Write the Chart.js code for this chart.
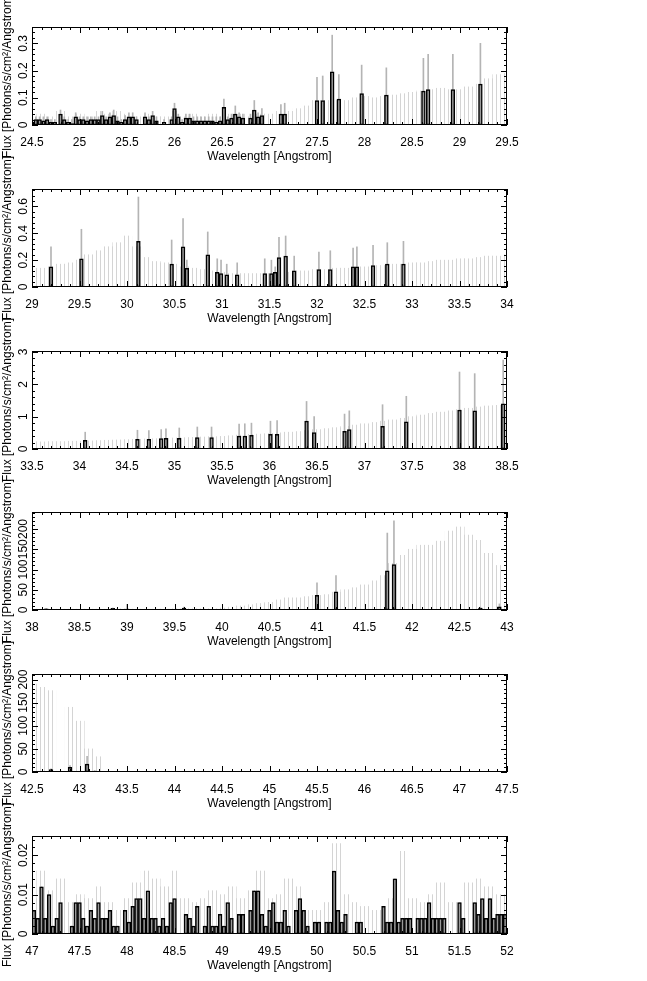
<!DOCTYPE html>
<html><head><meta charset="utf-8">
<script src="https://cdn.jsdelivr.net/npm/chart.js@4/dist/chart.umd.min.js"></script>
<style>body{margin:0;background:#fff;width:647px;height:981px;overflow:hidden}
.p{position:absolute;left:0;width:647px;height:204px}</style></head><body>
<div id="wrap"></div>
<script>
// ---- panel ranges and y tick steps ----
const xMin = [24.5, 29, 33.5, 38, 42.5, 47];
const yMax = [0.36, 0.73, 3.03, 242, 212, 0.0249];
const yStep = [0.1, 0.2, 1, 50, 50, 0.01];
const yDigits = [1, 1, 0, 0, 0, 2];
const binWidth = 0.04;

// ---- upper error envelope, sampled every 0.1 A from the panel start ----
const err1 = [0.03,0.04,0.03,0.05,0.03,0.04,0.03,0.05,0.04,0.05,0.04,0.03,0.04,0.03,0.03,0.05,0.03,0.04,0.03,0.04,0.03,0.04,0.04,0.03,0.04,0.04,0.05,0.05,0.06,0.07,0.09,0.09,0.09,0.09,0.1,0.105,0.1,0.105,0.11,0.115,0.12,0.125,0.13,0.135,0.13,0.13,0.14,0.15,0.17,0.185,0.19];
const err2 = [0.14,0.14,0.15,0.17,0.18,0.2,0.24,0.27,0.3,0.33,0.38,0.3,0.22,0.19,0.18,0.17,0.15,0.14,0.13,0.12,0.11,0.1,0.1,0.1,0.1,0.1,0.11,0.11,0.12,0.12,0.13,0.13,0.14,0.14,0.15,0.15,0.16,0.16,0.17,0.17,0.18,0.18,0.19,0.2,0.2,0.21,0.21,0.22,0.23,0.23,0.24];
const err3 = [0.22,0.22,0.23,0.23,0.24,0.24,0.25,0.26,0.27,0.28,0.29,0.3,0.31,0.32,0.33,0.34,0.35,0.36,0.37,0.38,0.39,0.41,0.43,0.45,0.46,0.48,0.5,0.52,0.54,0.57,0.6,0.63,0.66,0.7,0.74,0.78,0.82,0.86,0.9,0.95,1.0,1.05,1.1,1.14,1.18,1.22,1.26,1.3,1.33,1.35,1.37];
const err4 = [2,2,2,2,2,2,2,2,2,3,3,2,2,2,2,3,3,3,3,3,5,7,10,13,16,19,25,30,30,33,36,38,44,50,55,62,72,85,115,135,150,160,160,170,195,205,185,172,140,110,15];
const err5 = [190,183,176,0,140,110,50,33,0,0,0,0,0,0,0,0,0,0,0,0,0,0,0,0,0,0,0,0,0,0,0,0,0,0,0,0,0,0,0,0,0,0,0,0,0,0,0,0,0,0,0];
const err6 = [0.009,0.016,0.011,0.014,0.008,0.01,0.009,0.012,0.008,0.006,0.009,0.013,0.016,0.014,0.012,0.016,0.009,0.008,0.009,0.011,0.01,0.012,0.009,0.011,0.016,0.009,0.01,0.014,0.012,0.006,0.006,0.008,0.023,0.01,0.008,0.007,0.006,0.006,0.009,0.021,0.009,0.008,0.01,0.013,0.008,0.008,0.013,0.014,0.012,0.01,0.01];

// ---- measured bins [wavelength, flux, upper error] ----
const bars1 = [[24.5,0.01,0.02],[24.54,0.02,0.03],[24.58,0.02,0.03],[24.62,0.015,0.03],[24.66,0.02,0.03],[24.7,0.01,0.02],[24.74,0.01,0.02],[24.8,0.04,0.055],[24.84,0.02,0.03],[24.88,0.01,0.02],[24.92,0.005,0.02],[24.96,0.03,0.045],[25.0,0.02,0.03],[25.04,0.02,0.03],[25.08,0.015,0.03],[25.12,0.02,0.03],[25.16,0.02,0.03],[25.2,0.02,0.03],[25.24,0.035,0.05],[25.28,0.02,0.03],[25.32,0.03,0.045],[25.36,0.035,0.055],[25.4,0.015,0.03],[25.44,0.01,0.02],[25.48,0.02,0.035],[25.52,0.03,0.045],[25.56,0.03,0.045],[25.6,0.02,0.03],[25.69,0.03,0.045],[25.73,0.02,0.03],[25.77,0.035,0.05],[25.81,0.015,0.03],[25.89,0.01,0.02],[25.97,0.02,0.03],[26.0,0.06,0.08],[26.04,0.03,0.04],[26.08,0.01,0.02],[26.12,0.025,0.04],[26.16,0.025,0.04],[26.2,0.015,0.03],[26.24,0.015,0.03],[26.28,0.015,0.03],[26.32,0.015,0.03],[26.36,0.015,0.03],[26.4,0.015,0.03],[26.44,0.01,0.03],[26.48,0.015,0.03],[26.52,0.065,0.095],[26.56,0.02,0.03],[26.6,0.025,0.04],[26.64,0.04,0.07],[26.68,0.03,0.045],[26.72,0.025,0.04],[26.8,0.025,0.04],[26.84,0.055,0.09],[26.88,0.03,0.045],[26.92,0.035,0.06],[27.12,0.04,0.075],[27.16,0.04,0.08],[27.5,0.09,0.175],[27.56,0.09,0.18],[27.66,0.195,0.33],[27.73,0.095,0.185],[27.97,0.115,0.22],[28.23,0.11,0.21],[28.62,0.125,0.245],[28.67,0.13,0.26],[28.93,0.13,0.26],[29.22,0.15,0.3]];
const bars2 = [[29.2,0.15,0.3],[29.52,0.21,0.43],[30.12,0.34,0.67],[30.47,0.17,0.35],[30.59,0.3,0.51],[30.63,0.14,0.2],[30.85,0.24,0.41],[30.95,0.11,0.21],[30.99,0.1,0.2],[31.05,0.09,0.17],[31.16,0.09,0.18],[31.45,0.1,0.21],[31.52,0.1,0.2],[31.56,0.11,0.15],[31.6,0.22,0.37],[31.67,0.23,0.38],[31.76,0.12,0.23],[32.02,0.13,0.26],[32.14,0.13,0.27],[32.38,0.15,0.29],[32.42,0.15,0.3],[32.59,0.16,0.31],[32.74,0.17,0.33],[32.91,0.17,0.34]];
const bars3 = [[34.06,0.27,0.52],[34.61,0.3,0.58],[34.73,0.3,0.57],[34.86,0.32,0.6],[34.91,0.33,0.62],[35.05,0.33,0.65],[35.24,0.35,0.68],[35.39,0.35,0.68],[35.68,0.4,0.77],[35.74,0.4,0.78],[35.81,0.42,0.8],[36.01,0.45,0.86],[36.08,0.45,0.88],[36.39,0.86,1.47],[36.47,0.51,1.0],[36.79,0.55,1.08],[36.84,0.6,1.18],[37.19,0.7,1.37],[37.44,0.84,1.63],[38.0,1.2,2.38],[38.16,1.18,2.33],[38.46,1.4,2.75]];
const bars4 = [[38.15,3,4],[38.85,4,5],[39.0,2,14],[39.6,5,7],[41.0,36,67],[41.2,45,85],[41.74,97,190],[41.81,112,220],[42.72,5,7],[42.92,8,15]];
const bars5 = [[42.7,5,7],[42.9,10,14],[43.08,17,34],[43.16,2,3]];
const vals6 = [0.006,0.004,0.012,0.004,0.010,0.002,0.004,0.008,0,0,0.002,0.008,0.008,0.004,0.002,0.006,0.004,0.008,0.004,0.004,0.006,0.002,0.002,0,0.006,0.003,0.007,0.009,0.009,0.004,0.011,0.004,0.004,0.002,0.004,0.002,0.008,0.009,0,0,0.005,0.004,0.002,0.007,0,0.002,0.007,0.002,0.002,0.005,0.002,0.008,0.004,0,0.005,0.005,0,0.006,0.011,0.011,0.005,0.002,0.006,0.008,0.003,0.003,0.006,0.002,0,0.006,0.009,0.006,0.002,0,0.003,0.003,0,0.003,0.003,0.016,0.006,0.003,0.005,0,0,0.003,0.003,0,0,0,0,0,0.007,0.003,0.003,0.014,0.003,0.004,0.004,0.004,0,0.004,0.004,0.004,0.008,0.004,0.004,0.004,0.004,0,0,0,0.008,0.004,0,0,0.008,0.005,0.009,0.004,0.009,0.004,0.005,0.005,0.005];

const errs = [err1, err2, err3, err4, err5, err6];
const bars = [bars1, bars2, bars3, bars4, bars5, vals6.map((v, i) => [47 + binWidth * (i + 0.5), v, v])];

const fontFam = '"Liberation Sans", Arial, sans-serif';
const FS = 12;
const EXTRA = 21; // overlap margin above/below so the long y title is not clipped

const pc = document.createElement('canvas'); pc.width = 4; pc.height = 4;
const pctx = pc.getContext('2d'); pctx.fillStyle = '#d4d4d4'; pctx.fillRect(0, 0, 1, 4);
const hatch = pctx.createPattern(pc, 'repeat');

const frame = {
  id: 'frame',
  afterDraw(c, a, o) {
    const ctx = c.ctx, ca = c.chartArea, xs = c.scales.x, ys = c.scales.y;
    ctx.save();
    ctx.strokeStyle = '#000'; ctx.lineWidth = 1;
    ctx.strokeRect(ca.left + 0.5, ca.top + 0.5, ca.right - ca.left - 1, ca.bottom - ca.top - 1);
    ctx.beginPath();
    const x0 = xs.min;
    for (let k = 0; k <= 50; k++) {
      const v = x0 + k * 0.1, px = Math.round(xs.getPixelForValue(v)) + 0.5, L = k % 5 === 0 ? 6 : 3;
      ctx.moveTo(px, ca.bottom); ctx.lineTo(px, ca.bottom - L);
      ctx.moveTo(px, ca.top); ctx.lineTo(px, ca.top + L);
    }
    const st = o.step / 5;
    for (let k = 0; k * st <= ys.max + 1e-9; k++) {
      const py = Math.round(ys.getPixelForValue(k * st)) + 0.5, L = k % 5 === 0 ? 6 : 3;
      ctx.moveTo(ca.left, py); ctx.lineTo(ca.left + L, py);
      ctx.moveTo(ca.right, py); ctx.lineTo(ca.right - L, py);
    }
    ctx.stroke();
    ctx.fillStyle = '#000'; ctx.font = FS + 'px ' + fontFam;
    ctx.textAlign = 'center'; ctx.textBaseline = 'middle';
    for (let k = 0; k * o.step <= ys.max + 1e-9; k++) {
      const v = k * o.step, py = ys.getPixelForValue(v);
      ctx.save(); ctx.translate(ca.left - 8, py); ctx.rotate(-Math.PI / 2);
      ctx.fillText(v === 0 ? '0' : v.toFixed(o.digits), 0, 0);
      ctx.restore();
    }
    ctx.restore();
  }
};

for (let p = 0; p < 6; p++) {
  const d = document.createElement('div');
  d.className = 'p'; d.style.top = (p * 161.8 - EXTRA) + 'px';
  const cv = document.createElement('canvas'); d.appendChild(cv);
  document.getElementById('wrap').appendChild(d);
  const envelope = errs[p].map((h, i) => ({ x: xMin[p] + 0.1 * i, y: [0, h] }));
  const spikes = bars[p].map(b => ({ x: b[0], y: [b[1], b[2]] }));
  const hist = bars[p].map(b => ({ x: b[0], y: b[1] }));
  const pxPerA = 475 / 5;
  new Chart(cv, {
    type: 'bar',
    data: { datasets: [
      { data: envelope, backgroundColor: hatch, barThickness: 0.1 * pxPerA, grouped: false, order: 3 },
      { data: spikes, backgroundColor: '#b4b4b4', barThickness: 1, grouped: false, order: 2 },
      { data: hist, backgroundColor: '#9a9a9a', borderColor: '#000', borderWidth: 1.5, borderSkipped: false,
        barThickness: binWidth * pxPerA, grouped: false, order: 1 }
    ]},
    options: {
      responsive: true, maintainAspectRatio: false, animation: false,
      layout: { padding: { top: 27 + EXTRA, right: 140, left: 0, bottom: 0 } },
      plugins: { legend: { display: false }, tooltip: { enabled: false }, frame: { step: yStep[p], digits: yDigits[p] } },
      scales: {
        x: { type: 'linear', min: xMin[p], max: xMin[p] + 5, offset: false,
          grid: { display: false }, border: { display: false },
          ticks: { stepSize: 0.5, color: '#000', font: { size: FS, family: fontFam }, padding: 2, maxRotation: 0,
            callback: v => String(Math.round(v * 10) / 10) },
          title: { display: true, text: 'Wavelength [Angstrom]', color: '#000', font: { size: FS, family: fontFam }, padding: { top: 6, bottom: EXTRA - 2 } },
          afterFit: s => { s.height = 37 + EXTRA; } },
        y: { min: 0, max: yMax[p], grid: { display: false }, border: { display: false },
          ticks: { display: false, stepSize: yStep[p] },
          title: { display: true, text: 'Flux [Photons/s/cm²/Angstrom]', color: '#000', font: { size: FS, family: fontFam }, padding: 0 },
          afterFit: s => { s.width = 32; } }
      }
    },
    plugins: [frame]
  });
}
</script></body></html>
